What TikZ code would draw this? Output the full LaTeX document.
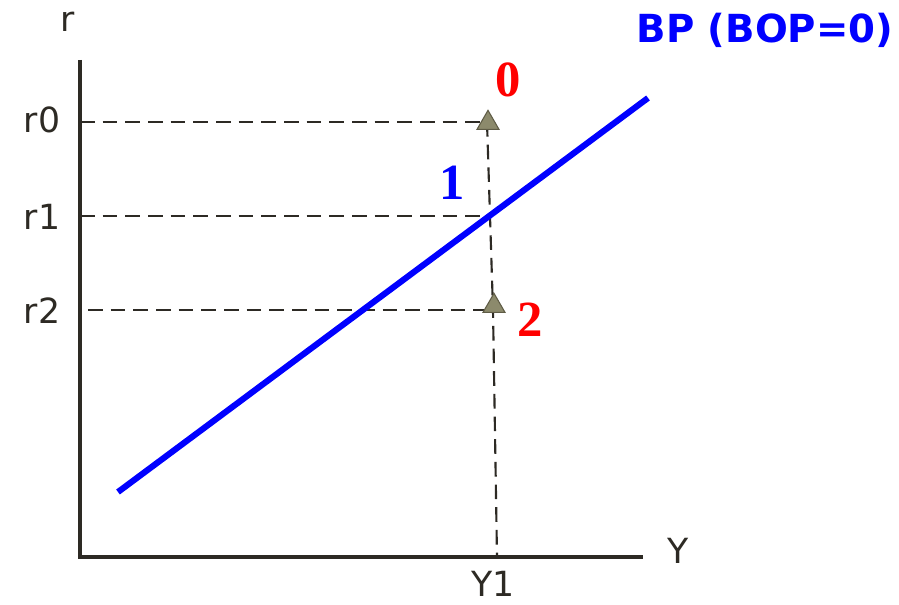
\documentclass[tikz,border=0pt]{standalone}
\usepackage{fontspec}
\setmainfont{DejaVu Sans}
\newfontfamily\numfont{Liberation Serif}
\usetikzlibrary{shapes.geometric}

\definecolor{axisgray}{RGB}{45,42,36}
\definecolor{marker}{RGB}{140,138,108}
\definecolor{markerline}{RGB}{95,92,70}

\tikzset{
  axisline/.style={line width=2.3pt, axisgray},
  guide/.style={line width=1.6pt, axisgray, dash pattern=on 11pt off 6pt},
  bpline/.style={line width=4.6pt, blue},
  tick/.style={font=\fontsize{26}{28}\selectfont, text=axisgray, inner sep=0pt},
  ptlabel/.style={font=\numfont\bfseries\fontsize{38}{40}\selectfont, inner sep=0pt},
  tri/.style={regular polygon, regular polygon sides=3, fill=marker, draw=markerline,
    line width=0.8pt, minimum size=19pt, inner sep=0pt}
}

\begin{document}
\begin{tikzpicture}[x=0.75pt, y=-0.75pt]
\useasboundingbox (0,0) rectangle (899,605);

% --- axes ---
\coordinate (O) at (80,557);
\coordinate (ytop) at (80,60);
\coordinate (xend) at (643,557);
\draw[axisline] (ytop) -- (O) -- (xend);

\node[tick] (rlab) at (68,22) {r};
\node[tick] (Ylab) at (678,551) {Y};

% --- points on the vertical through Y1 ---
\coordinate (p0) at (487,122);
\coordinate (p1) at (490,216);
\coordinate (p2) at (493,310);
\coordinate (foot) at (497,557);

% --- guide lines ---
\coordinate (a0) at (80,122);
\coordinate (a1) at (80,216);
\coordinate (a2) at (88,310);
\draw[guide] (a0) -- (p0);
\draw[guide] (a1) -- (p1);
\draw[guide] (a2) -- (p2);
\draw[guide] (p0) -- (p1) -- (p2) -- (foot);

\node[tick] (r0) at (42,120) {r0};
\node[tick] (r1) at (42,217) {r1};
\node[tick] (r2) at (42,311) {r2};
\node[tick] (Y1) at (493,584) {Y1};

% --- BP curve ---
\coordinate (bpa) at (118,492);
\coordinate (bpb) at (648,98);
\draw[bpline] (bpa) -- (bpb);
\node[font=\bfseries\fontsize{29}{31}\selectfont, text=blue, inner sep=0pt] (bp) at (765,30) {BP (BOP=0)};

% --- markers and their labels ---
\node[tri] (m0) at (488,123) {};
\node[tri] (m2) at (494,306) {};

\node[ptlabel, text=red] (n0) at (508,80) {0};
\node[ptlabel, text=blue] (n1) at (452,183) {1};
\node[ptlabel, text=red] (n2) at (530,320) {2};

\end{tikzpicture}
\end{document}
